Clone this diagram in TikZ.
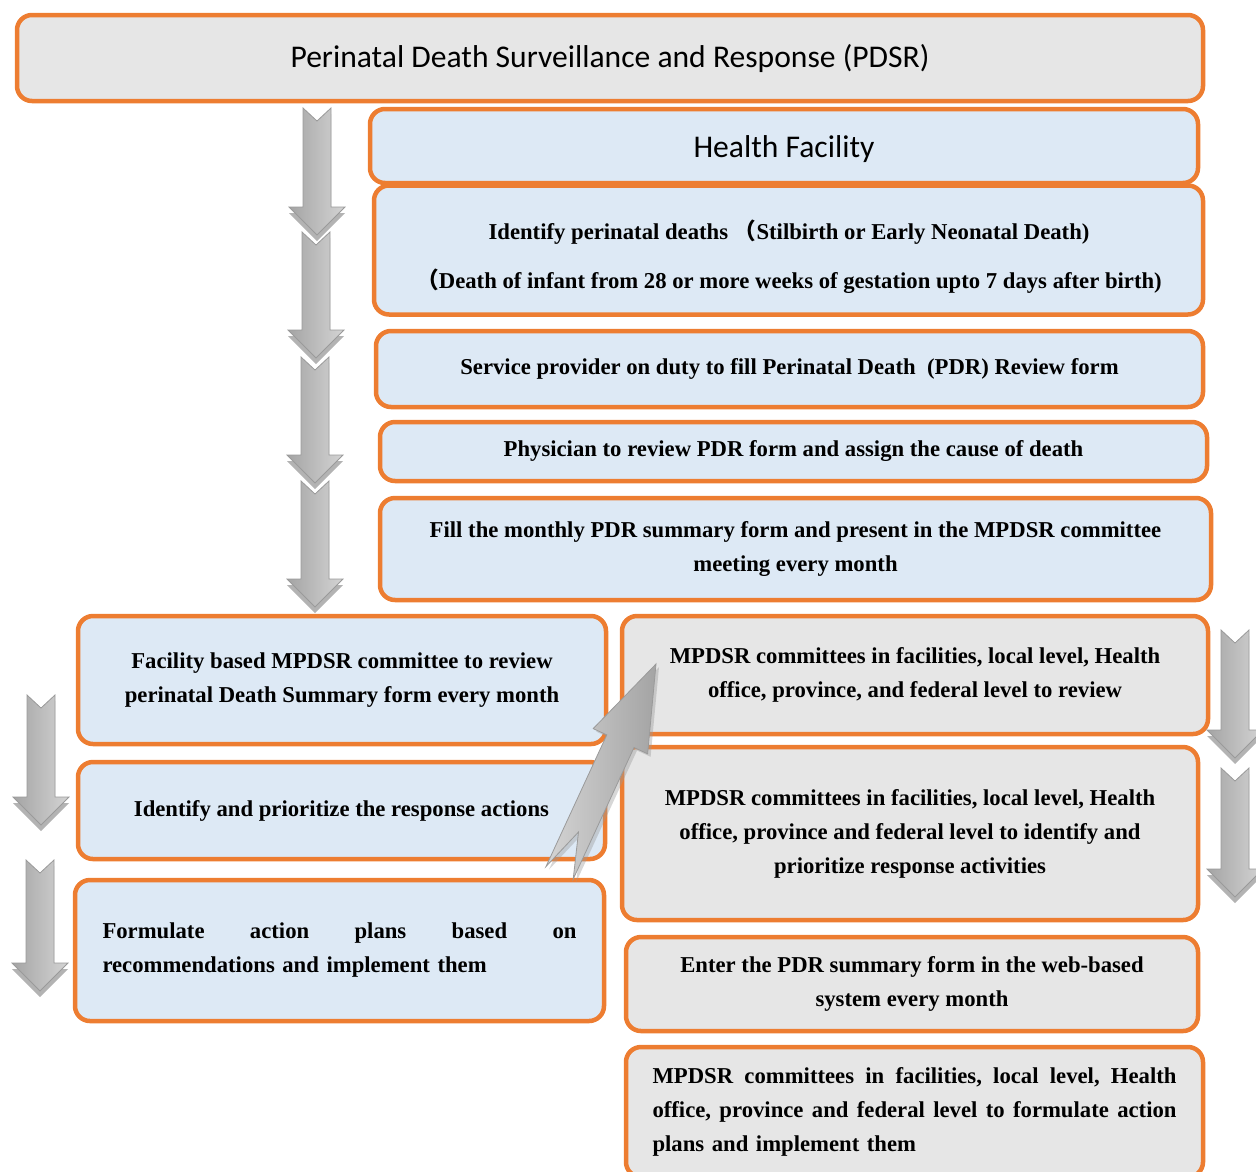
\documentclass[tikz,border=0pt]{standalone}
\usepackage{fontspec}
\setmainfont{Liberation Serif}
\newfontfamily\calib{Carlito}
\newfontfamily\cjk{Noto Sans CJK SC}

\definecolor{edge}{HTML}{ED7D31}
\definecolor{paleblue}{HTML}{DDE9F5}
\definecolor{palegray}{HTML}{E6E6E6}
\definecolor{arrowdark}{HTML}{A4A4A4}
\definecolor{arrowlight}{HTML}{D4D4D4}
\definecolor{arrowline}{HTML}{9A9A9A}

\tikzset{
  box/.style={draw=edge, line width=4.5pt, rounded corners=15pt, inner sep=0pt,
    font=\fontsize{22.7}{34}\selectfont\bfseries, align=center},
  bluebox/.style={box, fill=paleblue},
  graybox/.style={box, fill=palegray},
  headfont/.style={font=\calib\fontsize{31.6}{34}\selectfont},
  arrowbody/.style={draw=arrowline, line width=0.8pt, left color=arrowdark, right color=arrowlight},
  arrowshadow/.style={fill=arrowline, opacity=0.75},
}

% downward block arrow: centre x, top y, tip y
\newcommand\blockdown[3]{%
  \fill[arrowshadow, yshift=-6pt]
    (#1-14,#2) -- (#1,#2+13) -- (#1+14,#2) -- (#1+14,#3-28) -- (#1+28,#3-28)
    -- (#1,#3) -- (#1-28,#3-28) -- (#1-14,#3-28) -- cycle;
  \draw[arrowbody]
    (#1-14,#2) -- (#1,#2+13) -- (#1+14,#2) -- (#1+14,#3-28) -- (#1+28,#3-28)
    -- (#1,#3) -- (#1-28,#3-28) -- (#1-14,#3-28) -- cycle;
}

\begin{document}
\begin{tikzpicture}[x=1pt, y=-1pt]
\useasboundingbox (0,0) rectangle (1256,1171);

% title
\node[box, headfont, fill=palegray, minimum width=1186pt, minimum height=86pt] (pdsr) at (610,58)
  {Perinatal Death Surveillance and Response (PDSR)};

% facility column
\node[bluebox, minimum width=828pt, minimum height=74pt] (hf) at (784,146) {};
\node[headfont] (hftext) at (784,149) {Health Facility};
\node[bluebox, minimum width=829pt, minimum height=129pt] (ident) at (788.5,250) {};
\node[box, draw=none, fill=none] (identtext) at (789,257)
  {Identify perinatal deaths {\cjk （}Stilbirth or Early Neonatal Death)\\[15pt]
   {\cjk （}Death of infant from 28 or more weeks of gestation upto 7 days after birth)};
\node[bluebox, minimum width=827pt, minimum height=76pt] (serv) at (789.5,369)
  {Service provider on duty to fill Perinatal Death\ \ (PDR) Review form};
\node[bluebox, minimum width=827pt, minimum height=59pt] (phys) at (793.5,451.5)
  {Physician to review PDR form and assign the cause of death};
\node[bluebox, minimum width=831pt, minimum height=102pt] (fill) at (795.5,549)
  {Fill the monthly PDR summary form and present in the MPDSR committee\\meeting every month};

% left column
\node[bluebox, minimum width=528pt, minimum height=128pt] (fac) at (342,680)
  {Facility based MPDSR committee to review\\perinatal Death Summary form every month};
\node[bluebox, minimum width=527pt, minimum height=97pt] (prio) at (341.5,810.5)
  {Identify and prioritize the response actions};
\node[bluebox, minimum width=529pt, minimum height=141pt, text width=474pt, align=left] (form) at (339.5,950.5)
  {\makebox[474pt][l]{Formulate\hfill action\hfill plans\hfill based\hfill on}\\
   recommendations and implement them};

% right column
\node[graybox, minimum width=586pt, minimum height=118pt] (rev) at (915,675)
  {MPDSR committees in facilities, local level, Health\\office, province, and federal level to review};
\node[graybox, minimum width=576pt, minimum height=173pt] (act) at (910,833.5)
  {MPDSR committees in facilities, local level, Health\\office, province and federal level to identify and\\prioritize response activities};
\node[graybox, minimum width=572pt, minimum height=94pt] (web) at (912,984)
  {Enter the PDR summary form in the web-based\\system every month};
\node[graybox, minimum width=577pt, minimum height=130pt, text width=524pt, align=left] (plan) at (914.5,1112)
  {\makebox[524pt][l]{MPDSR\hfill committees\hfill in\hfill facilities,\hfill local\hfill level,\hfill Health}\\
   \makebox[524pt][l]{office,\hfill province\hfill and\hfill federal\hfill level\hfill to\hfill formulate\hfill action}\\
   plans and implement them};

% block arrows
\blockdown{317}{108}{235}
\blockdown{316}{232}{358}
\blockdown{315}{357}{483}
\blockdown{315}{481}{607}
\blockdown{41}{695}{825}
\blockdown{40}{860}{991}
\blockdown{1235}{630}{758}
\blockdown{1235}{768}{897}

% rising arrow from the facility column to the committees
\fill[arrowshadow, opacity=0.4, xshift=3pt, yshift=-3pt]
  (656,664) -- (647.6,753.8) -- (634,747.5) -- (573.2,879.1) -- (578.5,832)
  -- (546,866.5) -- (606.8,734.9) -- (593.2,728.6) -- cycle;
\draw[arrowbody, left color=arrowlight, right color=arrowdark]
  (656,664) -- (647.6,753.8) -- (634,747.5) -- (573.2,879.1) -- (578.5,832)
  -- (546,866.5) -- (606.8,734.9) -- (593.2,728.6) -- cycle;
\end{tikzpicture}
\end{document}
